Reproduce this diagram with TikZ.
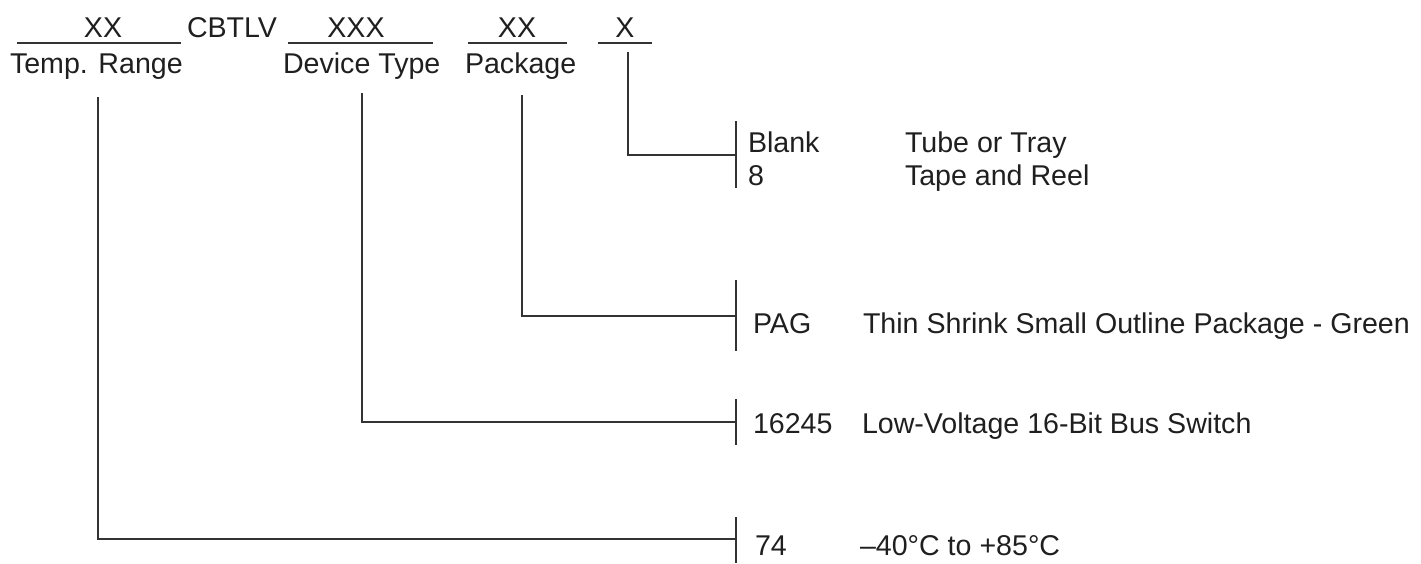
\documentclass[tikz,border=0pt]{standalone}
\usepackage{fontspec}
\setmainfont{Liberation Sans}
\begin{document}
\begin{tikzpicture}[x=1pt,y=-1pt,
  txt/.style={inner sep=0pt,outer sep=0pt,font=\fontsize{28.6}{34}\selectfont,text=black!88},
  lbl/.style={txt,anchor=base west},
  ctr/.style={txt,anchor=base},
  ln/.style={line width=1.2pt,draw=black!80}]
\useasboundingbox (0,0) rectangle (1421,563);
% top row
\node[ctr] (xx1) at (103,37) {XX};
\node[lbl] (cbtlv) at (187,37) {CBTLV};
\node[ctr] (xxx) at (356,37) {XXX};
\node[ctr] (xx2) at (517,37) {XX};
\node[ctr] (x1) at (625,37) {X};
\coordinate (u1a) at (17,43); \coordinate (u1b) at (181,43);
\coordinate (u2a) at (288,43); \coordinate (u2b) at (433,43);
\coordinate (u3a) at (468,43); \coordinate (u3b) at (567,43);
\coordinate (u4a) at (598,43); \coordinate (u4b) at (652,43);
\draw[ln] (u1a) -- (u1b);
\draw[ln] (u2a) -- (u2b);
\draw[ln] (u3a) -- (u3b);
\draw[ln] (u4a) -- (u4b);
% second row
\node[lbl] (temp) at (10,73) {Temp. Range};
\node[lbl] (dev) at (283,73) {Device Type};
\node[lbl] (pkg) at (465,73) {Package};
% connector start points
\coordinate (sx) at (628,52);
\coordinate (sp) at (522,95);
\coordinate (sd) at (362,93);
\coordinate (st) at (98,97);
% brackets
\coordinate (b1t) at (736,121); \coordinate (b1m) at (736,155); \coordinate (b1b) at (736,188);
\coordinate (b2t) at (736,280); \coordinate (b2m) at (736,316); \coordinate (b2b) at (736,351);
\coordinate (b3t) at (736,399); \coordinate (b3m) at (736,422); \coordinate (b3b) at (736,445);
\coordinate (b4t) at (736,517); \coordinate (b4m) at (736,539); \coordinate (b4b) at (736,563);
\draw[ln] (b1t) -- (b1b);
\draw[ln] (b2t) -- (b2b);
\draw[ln] (b3t) -- (b3b);
\draw[ln] (b4t) -- (b4b);
\draw[ln] (sx) |- (b1m);
\draw[ln] (sp) |- (b2m);
\draw[ln] (sd) |- (b3m);
\draw[ln] (st) |- (b4m);
% option texts
\node[lbl] (blank) at (748,152) {Blank};
\node[lbl] (eight) at (748,185) {8};
\node[lbl] (tube) at (905,152) {Tube or Tray};
\node[lbl] (tape) at (905,185) {Tape and Reel};
\node[lbl] (pag) at (753,333) {PAG};
\node[lbl] (tssop) at (863,333) {Thin Shrink Small Outline Package - Green};
\node[lbl] (dnum) at (753,433) {16245};
\node[lbl] (ddesc) at (862,433) {Low-Voltage 16-Bit Bus Switch};
\node[lbl] (tnum) at (755,555) {74};
\node[lbl] (tdesc) at (860,555) {–40°C to +85°C};
\end{tikzpicture}
\end{document}
